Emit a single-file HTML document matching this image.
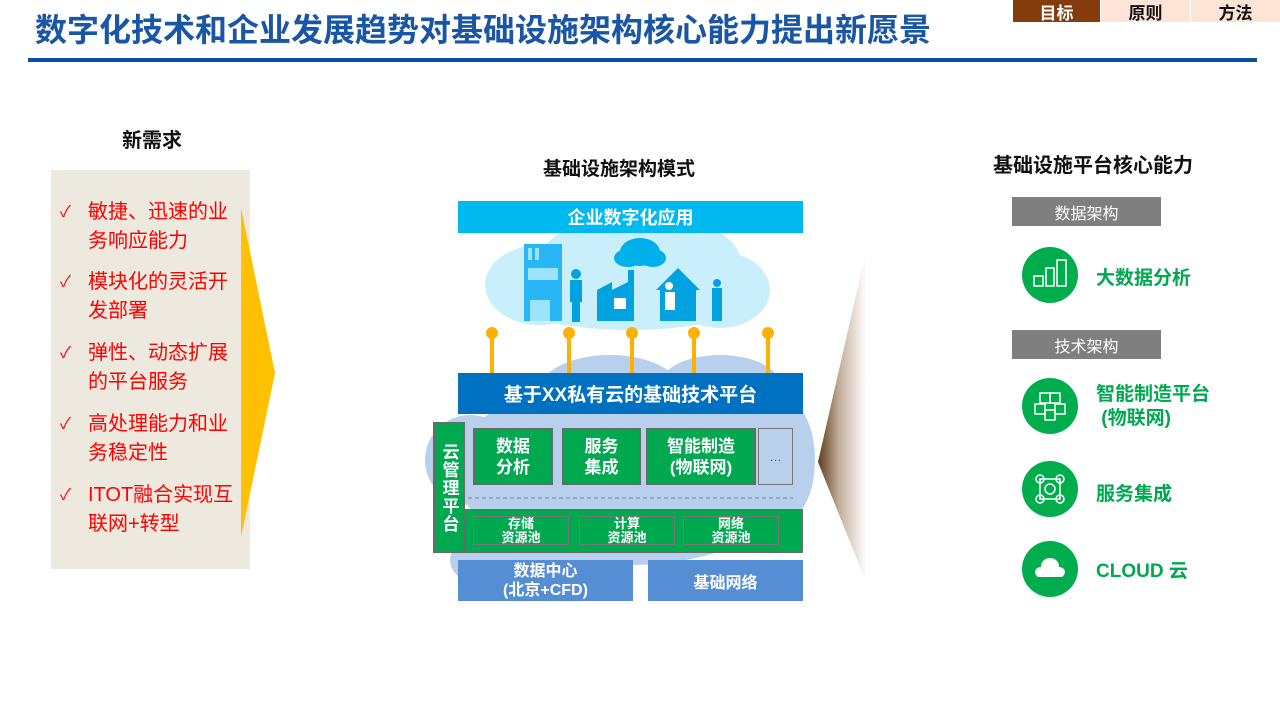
<!DOCTYPE html>
<html><head><meta charset="utf-8"><style>
*{margin:0;padding:0;box-sizing:border-box}
body{width:1280px;height:720px;background:#fff;position:relative;overflow:hidden;font-family:"Liberation Sans","Noto Sans CJK SC",sans-serif}
.a{position:absolute}
.c{display:flex;align-items:center;justify-content:center;text-align:center}
.tab{top:0;height:22px;font-size:17px;font-weight:bold;color:#111}
.item{left:60px;width:180px;font-size:20px;color:#f00;line-height:29px}
.item span{position:absolute;left:0;top:0;font-size:16px}
.item div{margin-left:28px}
.g{background:#00a84f;color:#fff;font-weight:bold;border:2px solid #6a6a6a}
.pool{border:1.5px solid #777;color:#fff;font-size:13px;line-height:14px;font-weight:bold}
.tag{background:#7f7f7f;color:#fff;font-size:16px;width:149px;height:29px;left:1012px}
.ic{left:1022px;width:56px;height:56px;border-radius:50%;background:#00ad4c}
.rt{left:1096px;color:#00a84f;font-weight:bold;font-size:19px}
</style></head><body>
<div class="a" style="left:35px;top:5px;font-size:32px;font-weight:bold;color:#1a56a6">数字化技术和企业发展趋势对基础设施架构核心能力提出新愿景</div>
<div class="a c tab" style="left:1013px;width:87px;background:#843c0c;color:#fff">目标</div>
<div class="a c tab" style="left:1101px;width:89px;background:#fce4d6">原则</div>
<div class="a c tab" style="left:1191px;width:89px;background:#fce4d6">方法</div>
<div class="a" style="left:28px;top:58px;width:1229px;height:4px;background:#0b4ea2"></div>

<div class="a" style="left:122px;top:124px;font-size:20px;font-weight:bold;color:#111">新需求</div>
<div class="a" style="left:51px;top:170px;width:199px;height:399px;background:#ede9df"></div>
<svg class="a" style="left:0;top:0" width="1280" height="720">
<polygon points="241,208 275,373 241,537" fill="#ffc000"/>
<defs><linearGradient id="sh" gradientUnits="userSpaceOnUse" x1="818" y1="0" x2="866" y2="0"><stop offset="0" stop-color="#5e3d1e"/><stop offset="0.45" stop-color="#c4b09c"/><stop offset="1" stop-color="#fff"/></linearGradient></defs>
<polygon points="880,190 818,462 878,612 900,612 900,190" fill="url(#sh)"/>
</svg>
<div class="a item" style="top:198px"><span>✓</span><div>敏捷、迅速的业务响应能力</div></div>
<div class="a item" style="top:268px"><span>✓</span><div>模块化的灵活开发部署</div></div>
<div class="a item" style="top:339px"><span>✓</span><div>弹性、动态扩展的平台服务</div></div>
<div class="a item" style="top:410px"><span>✓</span><div>高处理能力和业务稳定性</div></div>
<div class="a item" style="top:481px"><span>✓</span><div>ITOT融合实现互联网+转型</div></div>

<div class="a" style="left:543px;top:154px;font-size:19px;font-weight:bold;color:#111">基础设施架构模式</div>
<svg class="a" style="left:0;top:0" width="1280" height="720">
<g fill="#b9d0ec">
<ellipse cx="630" cy="470" rx="175" ry="95"/><ellipse cx="470" cy="460" rx="45" ry="45"/><ellipse cx="785" cy="460" rx="30" ry="60"/>
<ellipse cx="610" cy="390" rx="70" ry="35"/><ellipse cx="720" cy="385" rx="60" ry="30"/><ellipse cx="540" cy="560" rx="90" ry="40"/>
</g>
<g fill="#c9effc">
<ellipse cx="630" cy="290" rx="135" ry="40"/><ellipse cx="540" cy="285" rx="55" ry="40"/><ellipse cx="720" cy="290" rx="50" ry="38"/>
<ellipse cx="640" cy="260" rx="100" ry="45"/>
</g>
<ellipse cx="640" cy="252" rx="20" ry="14" fill="#00b0ea"/><ellipse cx="628" cy="258" rx="14" ry="9" fill="#00b0ea"/><ellipse cx="653" cy="258" rx="13" ry="9" fill="#00b0ea"/>
<rect x="524" y="244" width="38" height="77" fill="#29b6f6"/>
<g fill="#9be4fb"><rect x="528" y="248" width="4" height="12"/><rect x="535" y="248" width="4" height="12"/><rect x="528" y="268" width="30" height="12"/><rect x="530" y="300" width="20" height="21"/></g>
<circle cx="576" cy="274" r="5" fill="#00a3e0"/><rect x="570" y="280" width="12" height="22" fill="#00a3e0"/><rect x="572" y="302" width="8" height="20" fill="#00a3e0"/>
<polygon points="597,290 612,282 612,290 628,282 628,270 634,270 634,321 597,321" fill="#00a3e0"/>
<rect x="614" y="298" width="12" height="11" fill="#fff"/>
<polygon points="656,290 678,268 700,290 696,290 696,321 660,321 660,290" fill="#00a3e0"/>
<circle cx="669" cy="286" r="4" fill="#fff"/><rect x="665" y="292" width="10" height="18" fill="#fff"/>
<circle cx="717" cy="283" r="4" fill="#00a3e0"/><rect x="712" y="288" width="10" height="33" fill="#00a3e0"/>
<g fill="#ffb000">
<circle cx="492" cy="333" r="6"/><rect x="490" y="333" width="4" height="40"/>
<circle cx="569" cy="333" r="6"/><rect x="567" y="333" width="4" height="40"/>
<circle cx="632" cy="333" r="6"/><rect x="630" y="333" width="4" height="40"/>
<circle cx="694" cy="333" r="6"/><rect x="692" y="333" width="4" height="40"/>
<circle cx="768" cy="333" r="6"/><rect x="766" y="333" width="4" height="40"/>
</g>
<line x1="468" y1="498" x2="793" y2="498" stroke="#6a86b8" stroke-width="1" stroke-dasharray="4,3"/>
</svg>
<div class="a c" style="left:458px;top:201px;width:345px;height:32px;background:#00b9ef;color:#fff;font-weight:bold;font-size:18px">企业数字化应用</div>
<div class="a c" style="left:458px;top:373px;width:345px;height:41px;background:#0070c0;color:#fff;font-weight:bold;font-size:19px">基于XX私有云的基础技术平台</div>
<div class="a c g" style="left:433px;top:422px;width:32px;height:131px;font-size:17px;line-height:21px;writing-mode:vertical-rl;letter-spacing:1px">云管理平台</div>
<div class="a c g" style="left:473px;top:428px;width:80px;height:57px;font-size:17px;line-height:21px">数据<br>分析</div>
<div class="a c g" style="left:562px;top:428px;width:79px;height:57px;font-size:17px;line-height:21px">服务<br>集成</div>
<div class="a c g" style="left:646px;top:428px;width:110px;height:57px;font-size:17px;line-height:21px">智能制造<br>(物联网)</div>
<div class="a c" style="left:758px;top:428px;width:35px;height:57px;border:1.5px solid #777;color:#555;font-size:12px">…</div>
<div class="a" style="left:464px;top:509px;width:339px;height:44px;background:#00a84f;border:1px solid #6a6a6a"></div>
<div class="a c pool" style="left:473px;top:516px;width:96px;height:29px">存储<br>资源池</div>
<div class="a c pool" style="left:579px;top:516px;width:96px;height:29px">计算<br>资源池</div>
<div class="a c pool" style="left:683px;top:516px;width:96px;height:29px">网络<br>资源池</div>
<div class="a c" style="left:458px;top:560px;width:175px;height:41px;background:#558ed5;color:#fff;font-weight:bold;font-size:16px;line-height:19px">数据中心<br>(北京+CFD)</div>
<div class="a c" style="left:648px;top:560px;width:155px;height:41px;background:#558ed5;color:#fff;font-weight:bold;font-size:16px">基础网络</div>

<div class="a" style="left:993px;top:149px;font-size:20px;font-weight:bold;color:#111">基础设施平台核心能力</div>
<div class="a c tag" style="top:197px">数据架构</div>
<div class="a c tag" style="top:330px">技术架构</div>
<div class="a ic" style="top:247px"></div>
<div class="a ic" style="top:378px"></div>
<div class="a ic" style="top:461px"></div>
<div class="a ic" style="top:541px"></div>
<svg class="a" style="left:0;top:0" width="1280" height="720" fill="none" stroke="#fff" stroke-width="1.5">
<rect x="1034" y="276" width="9" height="10"/><rect x="1046" y="268" width="8" height="18"/><rect x="1057" y="260" width="9" height="26"/>
<rect x="1040" y="393" width="10" height="10"/><rect x="1050" y="393" width="10" height="10"/><rect x="1035" y="404" width="10" height="10"/><rect x="1055" y="404" width="10" height="10"/><rect x="1045" y="410" width="10" height="10"/>
<rect x="1040" y="479" width="20" height="20"/><circle cx="1040" cy="479" r="4"/><circle cx="1060" cy="479" r="4"/><circle cx="1040" cy="499" r="4"/><circle cx="1060" cy="499" r="4"/><circle cx="1050" cy="489" r="5"/>
</svg>
<svg class="a" style="left:0;top:0" width="1280" height="720"><g fill="#fff"><ellipse cx="1050" cy="566" rx="9" ry="8"/><ellipse cx="1041" cy="572" rx="6" ry="5"/><ellipse cx="1059" cy="572" rx="6" ry="5"/><rect x="1036" y="570" width="28" height="7" rx="3"/></g></svg>
<div class="a rt" style="top:263px">大数据分析</div>
<div class="a rt" style="top:383px;line-height:24px">智能制造平台<br>&nbsp;(物联网)</div>
<div class="a rt" style="top:479px">服务集成</div>
<div class="a rt" style="top:556px">CLOUD 云</div>
</body></html>
